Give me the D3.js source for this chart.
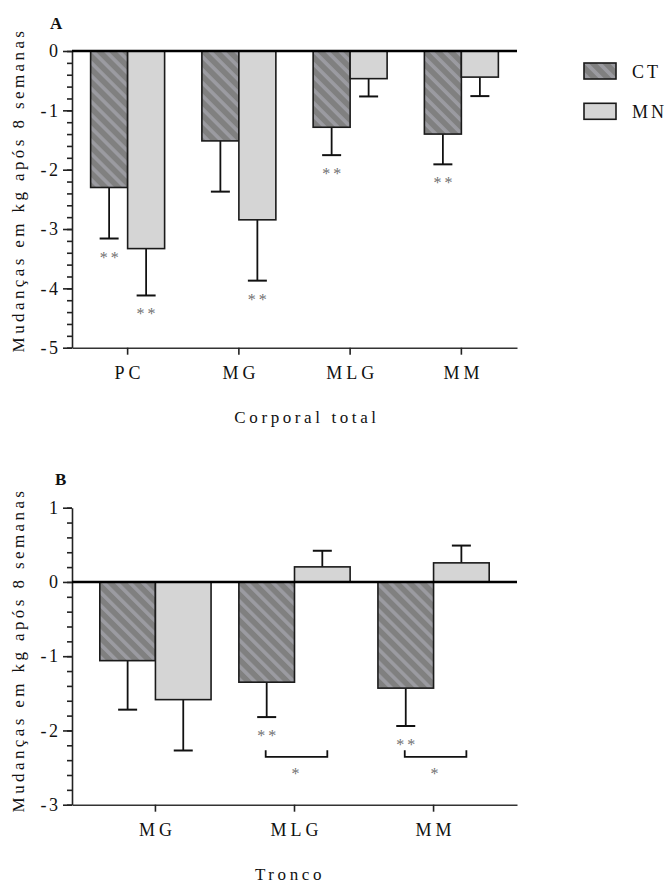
<!DOCTYPE html>
<html><head><meta charset="utf-8">
<script src="https://cdn.jsdelivr.net/npm/d3@7"></script>
<style>
body{margin:0;background:#fff;}
</style></head>
<body><svg id="c" width="670" height="884"></svg>
<script>
// ---- data ----
const catsA = ["PC","MG","MLG","MM"];
const ctA = [-2.30,-1.515,-1.285,-1.40];
const ctAerr = [0.86,0.855,0.47,0.51];
const mnA = [-3.33,-2.845,-0.466,-0.44];
const mnAerr = [0.79,1.025,0.30,0.32];
const sigCtA = ["**","","**","**"];
const sigMnA = ["**","**","",""];

const catsB = ["MG","MLG","MM"];
const ctB = [-1.06,-1.35,-1.43];
const ctBerr = [0.66,0.47,0.51];
const mnB = [-1.585,0.203,0.257];
const mnBerr = [0.685,0.217,0.233];
const sigCtB = ["","**","**"];
const bracketB = ["","*","*"];

const ticksA = [0,-1,-2,-3,-4,-5];
const ticksB = [1,0,-1,-2,-3];
const series = ["CT","MN"];

const FONT = '"Liberation Serif", serif';
const svg = d3.select("#c");
const defs = svg.append("defs");
const pat = defs.append("pattern").attr("id","hatch").attr("patternUnits","userSpaceOnUse")
  .attr("width",9.2).attr("height",9.2).attr("patternTransform","rotate(-45)");
pat.append("rect").attr("width",9.2).attr("height",9.2).attr("fill","#808080");
pat.append("rect").attr("x",0).attr("width",3.6).attr("height",9.2).attr("fill","#9b9ba1");

const fills = {CT:"url(#hatch)", MN:"#d5d5d5"};

function panel(opt){
  const g = svg.append("g");
  const x = d3.scaleBand().domain(opt.cats).range([72,517]).paddingInner(opt.pi).paddingOuter(opt.po);
  const xs = d3.scaleBand().domain(series).range([0,x.bandwidth()]);
  const y = d3.scaleLinear().domain(opt.ydom).range(opt.yrange);
  const [ymin,ymax] = opt.ydom;

  const minor = d3.range(Math.round(ymin*5), Math.round(ymax*5)+1).map(v=>v/5);
  const ya = g.append("g").attr("transform","translate(72,0)")
    .call(d3.axisLeft(y).tickValues(minor).tickSize(5).tickFormat("").tickSizeOuter(0));
  ya.select(".domain").remove();
  ya.selectAll("line").attr("stroke","#222").attr("stroke-width",1.6);
  const yb = g.append("g").attr("transform","translate(72,0)")
    .call(d3.axisLeft(y).tickValues(opt.ticks).tickSize(9).tickSizeOuter(0).tickPadding(5)
      .tickFormat(d=>d3.format("d")(d).replace("−","-")));
  yb.select(".domain").attr("stroke","#222").attr("stroke-width",1.6);
  yb.selectAll("line").attr("stroke","#222").attr("stroke-width",1.6);
  yb.selectAll("text").style("font-family",FONT).attr("font-size",18).attr("fill","#111")
    .attr("letter-spacing","2.5px").attr("dx",2.5);

  const xa = g.append("g").attr("transform",`translate(0,${y(ymin)})`)
    .call(d3.axisBottom(x).tickSize(7).tickSizeOuter(0).tickPadding(12));
  xa.select(".domain").attr("stroke","#333").attr("stroke-width",1.6);
  xa.selectAll("line").attr("stroke","#222").attr("stroke-width",1.6);
  xa.selectAll("text").style("font-family",FONT).attr("font-size",18).attr("fill","#111")
    .attr("letter-spacing","4px").attr("dx",2);

  const vals = {CT:opt.ct, MN:opt.mn}, errs = {CT:opt.cterr, MN:opt.mnerr};
  series.forEach(s=>{
    opt.cats.forEach((c,i)=>{
      const v = vals[s][i], e = errs[s][i];
      const bx = x(c)+xs(s), bw = xs.bandwidth(), cx = bx+bw/2;
      const sign = v<0?-1:1;
      const end = v+sign*e;
      g.append("line").attr("x1",cx).attr("x2",cx).attr("y1",y(v)).attr("y2",y(end))
        .attr("stroke","#111").attr("stroke-width",1.8);
      g.append("line").attr("x1",cx-9.5).attr("x2",cx+9.5).attr("y1",y(end)).attr("y2",y(end))
        .attr("stroke","#111").attr("stroke-width",2);
      g.append("rect").attr("x",bx).attr("width",bw)
        .attr("y",Math.min(y(v),y(0))).attr("height",Math.abs(y(v)-y(0)))
        .attr("fill",fills[s]).attr("stroke","#1a1a1a").attr("stroke-width",1.6);
      const sig = (s==="CT"?opt.sigCt:opt.sigMn)[i];
      if(sig){
        g.append("text").attr("x",cx+1.5).attr("y",y(end)+24).attr("text-anchor","middle")
          .style("font-family",FONT).attr("font-size",16).attr("fill","#707070")
          .attr("letter-spacing","3px").text(sig);
      }
    });
  });
  g.append("line").attr("x1",72).attr("x2",517).attr("y1",y(0)).attr("y2",y(0))
    .attr("stroke","#000").attr("stroke-width",2.6);

  if(opt.bracket){
    opt.cats.forEach((c,i)=>{
      const b = opt.bracket[i]; if(!b) return;
      const x1 = x(c)+xs("CT")+xs.bandwidth()/2 - 1, x2 = x(c)+xs("MN")+xs.bandwidth()/2 + 5;
      const yt = y(-2.265), yl = y(-2.355);
      g.append("path").attr("d",`M${x1},${yt}V${yl}H${x2}V${yt}`).attr("fill","none")
        .attr("stroke","#111").attr("stroke-width",1.8);
      g.append("text").attr("x",x(c)+x.bandwidth()/2+1).attr("y",y(-2.52)+10).attr("text-anchor","middle")
        .style("font-family",FONT).attr("font-size",16).attr("fill","#707070").text(b);
    });
  }

  g.append("text").attr("x",opt.letterX).attr("y",opt.letterY).style("font-family",FONT)
    .attr("font-size",17).attr("font-weight","bold").attr("fill","#111").text(opt.letter);
  g.append("text").attr("transform",`translate(24,${opt.ytitleY}) rotate(-90)`).attr("text-anchor","middle")
    .style("font-family",FONT).attr("font-size",17).attr("letter-spacing","3.4px").attr("fill","#111")
    .text("Mudanças em kg após 8 semanas");
  g.append("text").attr("x",opt.xtitleX).attr("y",opt.xtitleY).attr("text-anchor","middle")
    .style("font-family",FONT).attr("font-size",17).attr("letter-spacing","3.6px").attr("fill","#111")
    .text(opt.xtitle);
  return g;
}

panel({cats:catsA, ct:ctA, cterr:ctAerr, mn:mnA, mnerr:mnAerr, sigCt:sigCtA, sigMn:sigMnA,
  pi:0.335, po:0.1675, ydom:[-5,0], yrange:[347.7,51], ticks:ticksA,
  letter:"A", letterX:50, letterY:29, ytitleY:190, xtitle:"Corporal total", xtitleX:307, xtitleY:423});
panel({cats:catsB, ct:ctB, cterr:ctBerr, mn:mnB, mnerr:mnBerr, sigCt:sigCtB, sigMn:["","",""], bracket:bracketB,
  pi:0.2, po:0.2, ydom:[-3,1], yrange:[804.7,507.7], ticks:ticksB,
  letter:"B", letterX:55, letterY:485, ytitleY:650, xtitle:"Tronco", xtitleX:290, xtitleY:880});

const leg = svg.append("g");
series.forEach((s,i)=>{
  const yy = 63+i*40.3;
  leg.append("rect").attr("x",584).attr("y",yy).attr("width",32).attr("height",16)
    .attr("fill",fills[s]).attr("stroke","#1a1a1a").attr("stroke-width",1.6);
  leg.append("text").attr("x",632).attr("y",yy+15).style("font-family",FONT).attr("font-size",18)
    .attr("letter-spacing","3px").attr("fill","#111").text(s);
});
</script></body></html>
